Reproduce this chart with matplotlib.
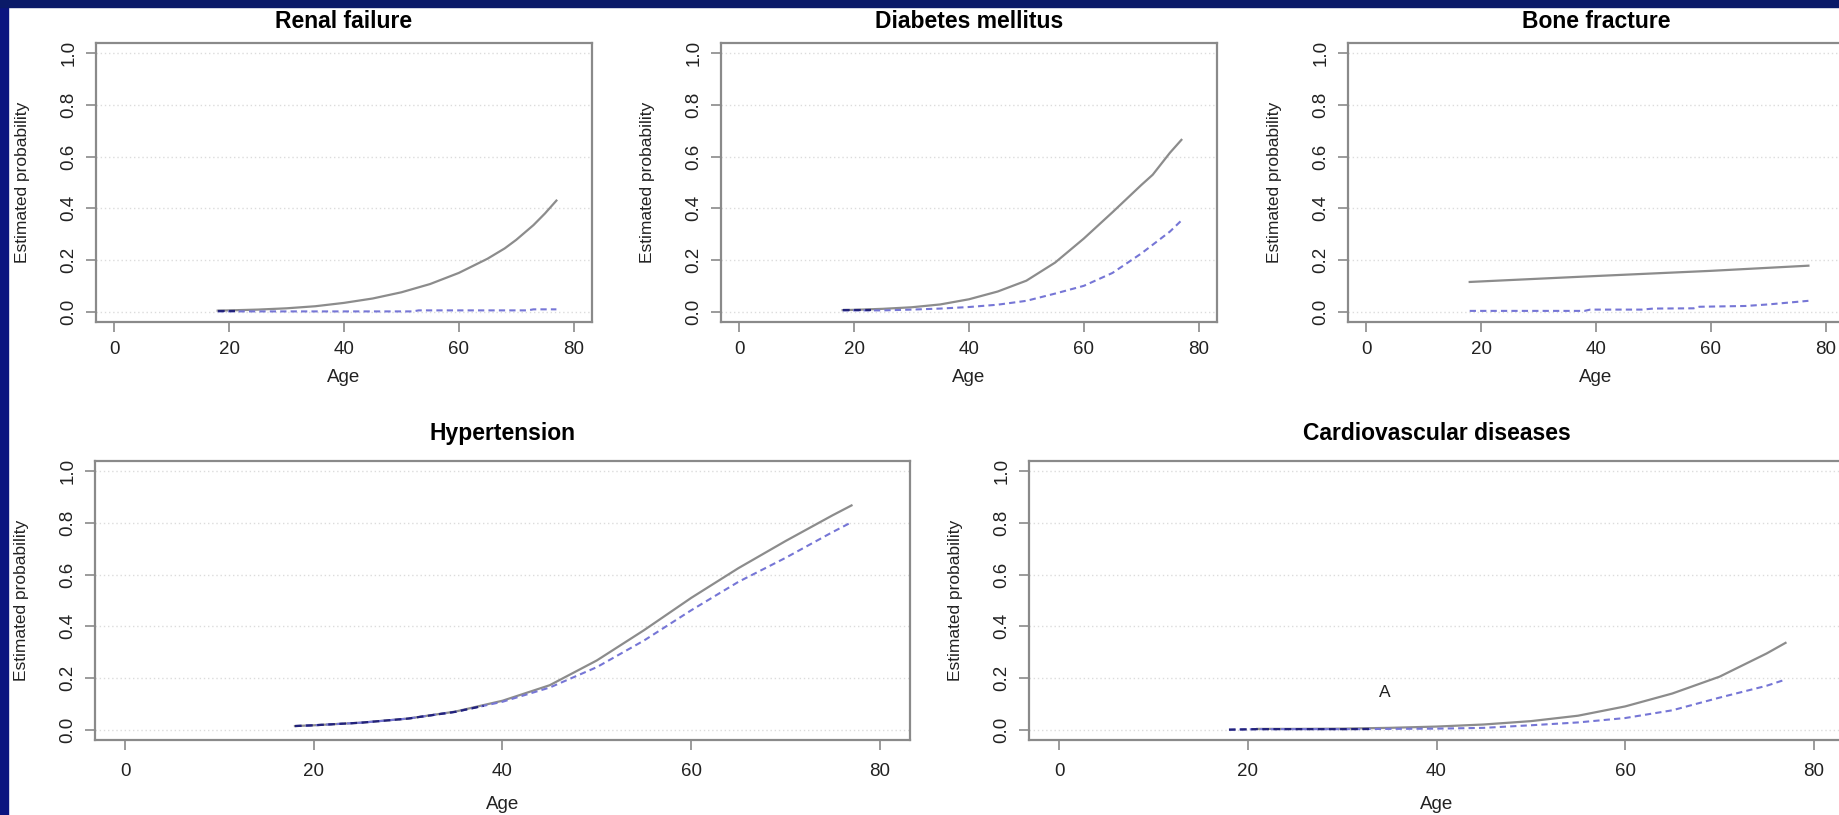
import matplotlib
matplotlib.use("Agg")
import matplotlib.pyplot as plt
from matplotlib.patches import Rectangle
import numpy as np

plt.rcParams['font.family'] = ['Liberation Sans', 'DejaVu Sans']

# --- data ---
titles = ["Renal failure", "Diabetes mellitus", "Bone fracture",
          "Hypertension", "Cardiovascular diseases"]

renal_age = [18, 20, 25, 30, 35, 40, 45, 50, 55, 60, 65, 68, 70, 73, 75, 77]
renal_solid = [0.004, 0.005, 0.008, 0.013, 0.021, 0.034, 0.051, 0.075, 0.107, 0.150, 0.205, 0.245, 0.278, 0.335, 0.38, 0.43]
renal_dash_age = [18, 52, 53, 72, 73, 77]
renal_dash = [0.001, 0.001, 0.005, 0.005, 0.009, 0.009]

diab_age = [18, 20, 25, 30, 35, 40, 45, 50, 55, 60, 65, 70, 72, 75, 77]
diab_solid = [0.006, 0.007, 0.011, 0.017, 0.028, 0.048, 0.078, 0.12, 0.19, 0.283, 0.385, 0.49, 0.53, 0.615, 0.665]
diab_dash_age = [18, 20, 25, 30, 35, 40, 45, 50, 55, 60, 65, 70, 75, 77]
diab_dash = [0.005, 0.005, 0.005, 0.008, 0.012, 0.018, 0.027, 0.042, 0.07, 0.10, 0.15, 0.225, 0.31, 0.353]

bone_age = [18, 40, 60, 77]
bone_solid = [0.115, 0.138, 0.158, 0.178]
bone_dash_age = [18, 38, 39, 48, 50, 57, 58, 66, 70, 77]
bone_dash = [0.003, 0.003, 0.008, 0.008, 0.012, 0.013, 0.019, 0.022, 0.028, 0.042]

hyp_age = [18, 20, 25, 30, 35, 40, 45, 50, 55, 60, 65, 70, 75, 77]
hyp_solid = [0.014, 0.017, 0.027, 0.043, 0.07, 0.112, 0.172, 0.268, 0.385, 0.51, 0.625, 0.73, 0.83, 0.868]
hyp_dash_age = hyp_age
hyp_dash = [0.014, 0.017, 0.027, 0.043, 0.069, 0.108, 0.163, 0.242, 0.345, 0.462, 0.572, 0.665, 0.765, 0.803]

cvd_age = [21, 25, 30, 35, 40, 45, 50, 55, 60, 65, 70, 75, 77]
cvd_solid = [0.003, 0.003, 0.004, 0.007, 0.012, 0.02, 0.033, 0.054, 0.09, 0.14, 0.205, 0.295, 0.336]
cvd_dash_age = [18, 21, 25, 30, 35, 40, 45, 50, 55, 60, 65, 70, 75, 77]
cvd_dash = [0.0, 0.002, 0.002, 0.002, 0.003, 0.004, 0.007, 0.017, 0.028, 0.045, 0.075, 0.124, 0.17, 0.194]

# ages up to which both curves overlap (drawn darker in the original)
overlap_end = [21, 23, None, 38, 33]

x_ticks = [0, 20, 40, 60, 80]
y_ticks = [0.0, 0.2, 0.4, 0.6, 0.8, 1.0]

panels = [
    (renal_age, renal_solid, renal_dash_age, renal_dash),
    (diab_age, diab_solid, diab_dash_age, diab_dash),
    (bone_age, bone_solid, bone_dash_age, bone_dash),
    (hyp_age, hyp_solid, hyp_dash_age, hyp_dash),
    (cvd_age, cvd_solid, cvd_dash_age, cvd_dash),
]

W, H = 1839, 815
fig = plt.figure(figsize=(W / 100, H / 100), dpi=100)
fig.patch.set_facecolor('white')

# navy frame strips of the slide
fig.add_artist(Rectangle((0, 0), 8 / W, 1, transform=fig.transFigure, color='#0b1480', zorder=0))
fig.add_artist(Rectangle((0, 1 - 7 / H), 1, 7 / H, transform=fig.transFigure, color='#0a1a68', zorder=0))

# axes boxes in pixels: left, top, width, height
boxes = [(96, 43, 496, 279), (721, 43, 496, 279), (1348, 43, 496, 279),
         (95, 461, 815, 279), (1029, 461, 815, 279)]
title_pad = [10.5, 10.5, 10.5, 15, 15]
GRAY = '#8c8c8c'
BLUE = '#7676d6'

for i, (ax_box, data) in enumerate(zip(boxes, panels)):
    l, t, w, h = ax_box
    ax = fig.add_axes([l / W, 1 - (t + h) / H, w / W, h / H])
    age, solid, dage, dash = data
    bottom_row = i >= 3

    # R-style dotted grid
    for yv in y_ticks:
        ax.axhline(yv, color='#dcdcdc', lw=1, ls=(0, (1, 2)), zorder=1)

    ax.plot(age, solid, color=GRAY, lw=1.6, zorder=3)
    ax.plot(dage, dash, color=BLUE, lw=1.5, ls=(0, (3, 2)), zorder=4)
    if overlap_end[i] is not None:
        xe = overlap_end[i]
        xs = [a for a in dage if a < xe]
        ys = dash[:len(xs)]
        ye = float(np.interp(xe, dage, dash))
        ax.plot(xs + [xe], ys + [ye], color='#22227a', lw=1.6, ls=(0, (3, 2)), zorder=5)

    ax.set_xlim(-3.2, 83.2)
    ax.set_ylim(-0.04, 1.04)
    ax.set_xticks(x_ticks)
    ax.set_yticks(y_ticks)
    ax.set_yticklabels([f"{v:.1f}" for v in y_ticks])
    for s in ax.spines.values():
        s.set_color('#8a8a8a')
        s.set_linewidth(1.6)
    ax.tick_params(axis='both', direction='out', length=7.5, width=1.2,
                   color='#8a8a8a', labelcolor='#222222', labelsize=13.5)
    ax.tick_params(axis='x', pad=9 if bottom_row else 6)
    ax.tick_params(axis='y', pad=6)
    for lab in ax.get_yticklabels():
        lab.set_rotation(90)
        lab.set_va('center')

    ax.set_title(titles[i], fontsize=16.5, fontweight='bold', pad=title_pad[i])
    ax.set_xlabel("Age", fontsize=13.5, color='#222222')
    ax.set_ylabel("Estimated probability", fontsize=12.5, color='#222222')
    ax.xaxis.set_label_coords(0.5, -(56 if bottom_row else 47) / h)
    ax.yaxis.set_label_coords(-66 / w, 0.5)

    if i == 4:
        ax.text(34.5, 0.143, "A", fontsize=12.5, color='#222222', ha='center', va='center')

fig.savefig("out.png", dpi=100, facecolor=fig.get_facecolor())
